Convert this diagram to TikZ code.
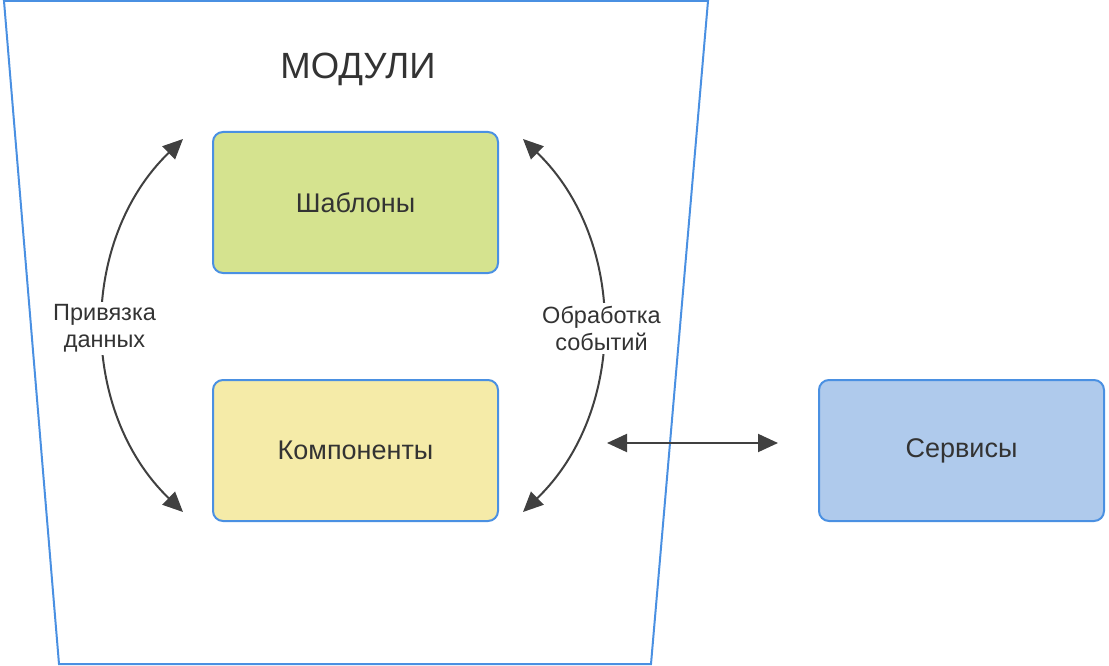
\documentclass[tikz,border=0pt]{standalone}
\usepackage{fontspec}
\setmainfont{Liberation Sans}
\usetikzlibrary{positioning,arrows.meta}
\definecolor{frameblue}{HTML}{4A90E2}
\definecolor{textgray}{HTML}{333333}
\definecolor{arrowgray}{HTML}{404040}
\definecolor{greenfill}{HTML}{D5E38F}
\definecolor{yellowfill}{HTML}{F5EBA8}
\definecolor{bluefill}{HTML}{AFCAEC}
\tikzset{
	mybox/.style={draw=frameblue,line width=2pt,rounded corners=10pt,minimum width=285pt,minimum height=141pt,text=textgray,font=\fontsize{27}{32}\selectfont},
	mylabel/.style={fill=white,text=textgray,align=center,inner sep=3pt,yshift=-3pt,font=\fontsize{23.5}{27}\selectfont},
	myarrow/.style={{Triangle[length=20pt,width=18pt]}-{Triangle[length=20pt,width=18pt]},draw=arrowgray,line width=2pt}
}

\begin{document}
\begin{tikzpicture}[x=1pt,y=-1pt]
		\useasboundingbox (0,0) rectangle (1109,666);
		\draw[frameblue,line width=2pt] (4,1) -- (708,1) -- (651,664) -- (59,664) -- cycle;
		\node[anchor=base,text=textgray,font=\fontsize{36.5}{40}\selectfont](title) at (358,79){МОДУЛИ};
		\node[mybox,fill=greenfill](templates) at (355.5,202.5){Шаблоны};
		\node[below = 105pt of templates,mybox,fill=yellowfill](components){Компоненты};
		\node[right = 319pt of components,mybox,fill=bluefill](services){Сервисы};
		\coordinate (bindtop) at (183,139);
		\coordinate (bindbottom) at (183,512);
		\coordinate (eventtop) at (523,139);
		\coordinate (eventbottom) at (523,512);
		\coordinate (linkleft) at (607,443);
		\coordinate (linkright) at (778,443);
		\draw[myarrow] (bindbottom) to[bend left = 46] node[midway,mylabel]{Привязка\\данных} (bindtop);
		\draw[myarrow] (eventtop) to[bend left = 46] node[midway,mylabel]{Обработка\\событий} (eventbottom);
		\draw[myarrow] (linkleft) -- (linkright);
	\end{tikzpicture}
\end{document}
